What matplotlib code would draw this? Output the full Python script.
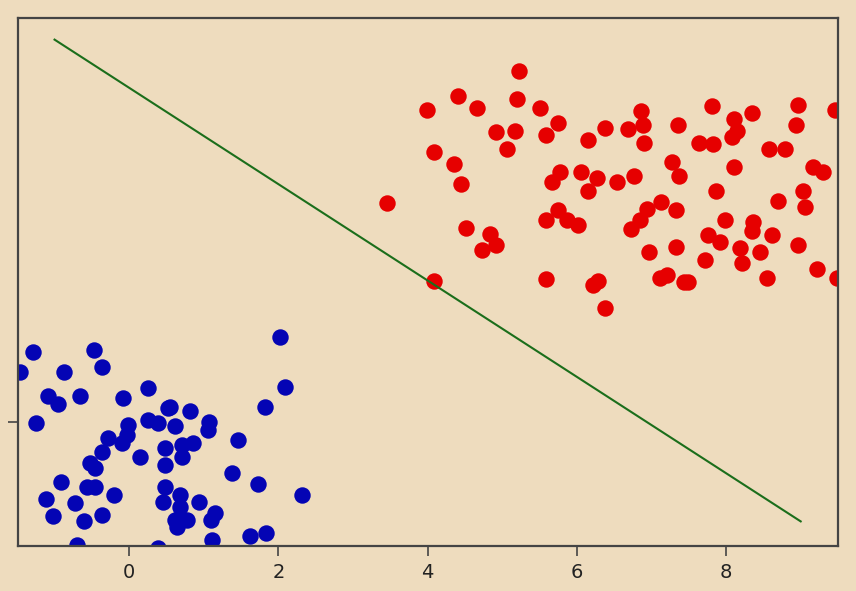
import matplotlib
matplotlib.use("Agg")
import matplotlib.pyplot as plt

red_x = [5.23, 4.41, 3.99, 4.66, 5.20, 5.50, 5.75, 5.59, 4.91, 5.17, 5.07, 4.09, 4.36, 6.15, 6.38,
         4.45, 5.78, 5.67, 6.06, 6.27, 7.81, 6.86, 8.35, 8.97, 9.46, 6.68, 6.88, 7.36, 8.11, 8.14,
         8.08, 8.94, 6.90, 7.64, 7.83, 8.57, 8.79, 7.27, 8.11, 7.37, 9.16, 9.30, 6.77, 6.54, 3.46,
         4.52, 4.84, 4.73, 4.92, 4.09, 5.59, 5.75, 5.87, 6.02, 6.15, 5.59, 6.21, 6.29, 6.38, 7.86,
         8.70, 9.03, 9.06, 7.13, 6.94, 7.33, 6.85, 6.72, 7.99, 8.36, 8.35, 8.61, 7.76, 7.92, 8.18,
         8.22, 8.45, 8.97, 6.97, 7.33, 7.72, 7.12, 7.21, 7.43, 7.49, 8.55, 9.22, 9.49]
red_y = [4.71, 4.37, 4.18, 4.21, 4.34, 4.21, 4.01, 3.85, 3.89, 3.91, 3.66, 3.62, 3.46, 3.78, 3.95,
         3.19, 3.35, 3.22, 3.36, 3.27, 4.24, 4.17, 4.14, 4.25, 4.18, 3.93, 3.98, 3.98, 4.06, 3.91,
         3.83, 3.98, 3.75, 3.75, 3.73, 3.66, 3.66, 3.49, 3.42, 3.30, 3.42, 3.36, 3.30, 3.22, 2.94,
         2.61, 2.52, 2.31, 2.37, 1.89, 2.71, 2.84, 2.71, 2.64, 3.10, 1.92, 1.84, 1.90, 1.53, 3.10,
         2.96, 3.10, 2.88, 2.95, 2.86, 2.84, 2.71, 2.59, 2.71, 2.68, 2.57, 2.51, 2.51, 2.41, 2.33,
         2.14, 2.28, 2.37, 2.28, 2.35, 2.18, 1.94, 1.97, 1.88, 1.88, 1.94, 2.06, 1.94]

blue_x = [-1.29, -0.47, -0.36, -1.46, -0.88, -1.09, -0.95, -0.66, -0.08, 0.25, -1.25, 0.25, 0.39,
          0.52, -0.01, -0.03, -0.29, -0.09, -0.36, -0.52, -0.46, 0.15, 0.48, 0.48, -0.91, -0.56,
          -0.46, -0.20, 0.48, -1.11, -0.72, 0.46, -1.02, -0.60, -0.36, -0.70, 0.39, 2.02, 2.09,
          1.82, 0.55, 0.82, 0.62, 1.07, 1.05, 1.46, 0.71, 0.86, 0.71, 1.38, 1.73, 2.32, 0.68,
          0.94, 0.68, 0.62, 0.78, 0.64, 1.15, 1.09, 1.62, 1.84, 1.11]
blue_y = [0.94, 0.97, 0.74, 0.67, 0.67, 0.35, 0.25, 0.35, 0.32, 0.46, -0.01, 0.03, -0.01,
          0.19, -0.04, -0.17, -0.21, -0.28, -0.40, -0.55, -0.62, -0.47, -0.34, -0.58, -0.80, -0.87,
          -0.87, -0.97, -0.87, -1.03, -1.09, -1.07, -1.26, -1.33, -1.25, -1.65, -1.69, 1.14, 0.47,
          0.20, 0.20, 0.15, -0.05, 0.00, -0.11, -0.24, -0.31, -0.28, -0.46, -0.68, -0.83, -0.97, -0.98,
          -1.07, -1.14, -1.31, -1.31, -1.41, -1.22, -1.31, -1.53, -1.49, -1.58]

line_x = [-1.0, 9.0]
line_y = [5.13, -1.33]

x_ticks = [0, 2, 4, 6, 8]
y_ticks = [0]

bg = "#EEDCBE"
fig = plt.figure(figsize=(8.56, 5.91), dpi=100, facecolor=bg)
ax = fig.add_axes([18/856, 1-546/591, 820/856, 528/591])
ax.set_facecolor(bg)

ax.scatter(blue_x, blue_y, s=140, color="#0404b4", zorder=2, linewidths=0)
ax.scatter(red_x, red_y, s=140, color="#e60000", zorder=2, linewidths=0)
ax.plot(line_x, line_y, color="#1b6e1b", lw=1.5, zorder=3)

ax.set_xlim(-1.49, 9.50)
ax.set_ylim(-1.66, 5.42)
ax.set_xticks(x_ticks)
ax.set_xticklabels([str(t) for t in x_ticks], fontsize=14, color="#222222")
ax.set_yticks(y_ticks)
ax.set_yticklabels([""])
for s in ax.spines.values():
    s.set_color("#444444")
    s.set_linewidth(1.6)
ax.tick_params(length=7, width=1.2, color="#444444", pad=5)

fig.savefig("out.png", dpi=100, facecolor=bg)
